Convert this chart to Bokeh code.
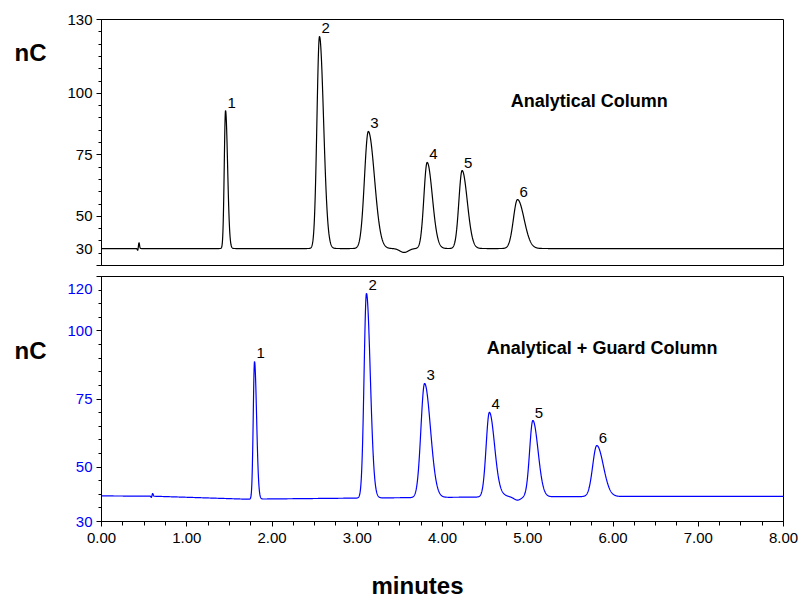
import numpy as np
from bokeh.plotting import figure
from bokeh.layouts import column
from bokeh.models import FixedTicker, Label, NumeralTickFormatter, Range1d
from bokeh.embed import file_html
from bokeh.resources import INLINE
from bokeh.core.properties import value

# ---------------- data ----------------
peak_ids = ["1", "2", "3", "4", "5", "6"]

# Analytical Column (top, black)
top_times = [1.455, 2.557, 3.13, 3.82, 4.23, 4.88]
top_heights = [93.0, 123.1, 84.5, 71.9, 68.6, 56.8]
top_widths = [0.015, 0.030, 0.045, 0.038, 0.038, 0.048]
top_base_times = [0.0, 8.0]
top_base_values = [36.9, 36.9]
top_disturb_times = [0.425, 0.44, 3.55]
top_disturb_amps = [-0.8, 2.4, -1.6]
top_disturb_widths = [0.005, 0.006, 0.05]

# Analytical + Guard Column (bottom, blue)
bot_times = [1.795, 3.108, 3.79, 4.55, 5.06, 5.81]
bot_heights = [88.8, 113.8, 80.7, 70.1, 67.1, 57.9]
bot_widths = [0.015, 0.028, 0.043, 0.038, 0.038, 0.048]
bot_base_times = [0.0, 0.6, 1.7, 3.0, 4.5, 6.0, 8.0]
bot_base_values = [39.4, 39.3, 38.2, 38.6, 39.0, 39.2, 39.2]
bot_disturb_times = [0.585, 0.6, 4.7, 4.88]
bot_disturb_amps = [-0.5, 1.0, 0.6, -1.2]
bot_disturb_widths = [0.005, 0.006, 0.05, 0.04]

top_yticks = [30, 50, 75, 100, 130]
bot_yticks = [30, 50, 75, 100, 120]
x_ticks = [0, 1, 2, 3, 4, 5, 6, 7, 8]

TAIL = 1.6
t = np.linspace(0, 8, 4001)


def build(base_t, base_v, times, heights, widths, dt, da, dw):
    base = np.interp(t, base_t, base_v)
    y = base.copy()
    for t0, h, s in zip(times, heights, widths):
        amp = h - np.interp(t0, base_t, base_v)
        sig = np.where(t < t0, s, s * TAIL)
        y += amp * np.exp(-0.5 * ((t - t0) / sig) ** 2)
    for t0, a, s in zip(dt, da, dw):
        y += a * np.exp(-0.5 * ((t - t0) / s) ** 2)
    return y


top_y = build(top_base_times, top_base_values, top_times, top_heights, top_widths,
              top_disturb_times, top_disturb_amps, top_disturb_widths)
bot_y = build(bot_base_times, bot_base_values, bot_times, bot_heights, bot_widths,
              bot_disturb_times, bot_disturb_amps, bot_disturb_widths)

FONT = "Liberation Sans"
BLUE = "#0000FF"


def style(p, tick_color):
    p.grid.visible = False
    p.outline_line_color = "black"
    p.outline_line_width = 1
    p.yaxis.axis_line_color = "black"
    p.yaxis.major_tick_line_color = "black"
    p.yaxis.minor_tick_line_color = "black"
    p.yaxis.major_tick_out = 5
    p.yaxis.major_tick_in = 0
    p.yaxis.minor_tick_out = 3
    p.yaxis.minor_tick_in = 0
    p.yaxis.major_label_text_font = FONT
    p.yaxis.major_label_text_font_size = "15px"
    p.yaxis.major_label_text_color = tick_color
    p.yaxis.major_label_standoff = 4


def canvas_label(p, side, x, y, text, size, color="black", bold=False, align="left"):
    # labels that live outside the plot frame go into a side panel so they are not clipped
    p.add_layout(Label(x=x, y=y, x_units="canvas", y_units="canvas", text=text,
                       text_font=FONT, text_font_size=size,
                       text_font_style="bold" if bold else "normal",
                       text_baseline="middle", text_align=align, text_color=color), side)


# ---------------- top figure ----------------
top = figure(width=809, height=271, output_backend="svg", toolbar_location=None,
             x_range=Range1d(0, 8), y_range=Range1d(30, 130), x_axis_location=None,
             min_border_left=101, min_border_right=26, min_border_top=19,
             min_border_bottom=6)
style(top, "black")
top.yaxis.ticker = FixedTicker(ticks=top_yticks, minor_ticks=list(range(30, 131, 5)))
# the edge label "30" sits a little above its tick, as in the reference
top.yaxis.major_label_overrides = {top_yticks[0]: ""}
canvas_label(top, "left", 92, 248, str(top_yticks[0]), "15px", align="right")
top.line(t, top_y, line_color="black", line_width=1.2)
top.text(x=top_times, y=top_heights, text=peak_ids, x_offset=2, y_offset=-3,
         text_baseline="bottom", text_align="left", text_font=value(FONT),
         text_font_size="15px", text_color="black")
top.add_layout(Label(x=4.80, y=96.7, text="Analytical Column", text_font=FONT,
                     text_font_size="18px", text_font_style="bold",
                     text_baseline="middle", text_align="left", text_color="black"))
canvas_label(top, "left", 14, 52, "nC", "24px", bold=True)

# ---------------- bottom figure ----------------
bot = figure(width=809, height=328, output_backend="svg", toolbar_location=None,
             x_range=Range1d(0, 8), y_range=Range1d(30, 120),
             min_border_left=101, min_border_right=26, min_border_top=5,
             min_border_bottom=78)
style(bot, BLUE)
bot.yaxis.ticker = FixedTicker(ticks=bot_yticks, minor_ticks=list(range(30, 121, 5)))
# the edge label "120" sits a little below its tick, as in the reference
bot.yaxis.major_label_overrides = {bot_yticks[-1]: ""}
canvas_label(bot, "left", 92, 17, str(bot_yticks[-1]), "15px", color=BLUE, align="right")
bot.xaxis.ticker = FixedTicker(ticks=x_ticks, minor_ticks=list(np.arange(0, 8.01, 0.25)))
bot.xaxis.formatter = NumeralTickFormatter(format="0.00")
bot.xaxis.axis_line_color = "black"
bot.xaxis.major_tick_out = 5
bot.xaxis.major_tick_in = 0
bot.xaxis.minor_tick_out = 4
bot.xaxis.minor_tick_in = 0
bot.xaxis.major_label_text_font = FONT
bot.xaxis.major_label_text_font_size = "15px"
bot.xaxis.major_label_text_color = "black"
bot.xaxis.major_label_standoff = 6
bot.line(t, bot_y, line_color=BLUE, line_width=1.2)
bot.text(x=bot_times, y=bot_heights, text=peak_ids, x_offset=2, y_offset=-3,
         text_baseline="bottom", text_align="left", text_font=value(FONT),
         text_font_size="15px", text_color="black")
bot.add_layout(Label(x=4.52, y=93.6, text="Analytical + Guard Column", text_font=FONT,
                     text_font_size="18px", text_font_style="bold",
                     text_baseline="middle", text_align="left", text_color="black"))
canvas_label(bot, "left", 14, 79, "nC", "24px", bold=True)
canvas_label(bot, "below", 417, 314, "minutes", "24px", bold=True, align="center")

layout = column(top, bot, spacing=0)
open("out.html", "w").write(file_html(layout, INLINE))
